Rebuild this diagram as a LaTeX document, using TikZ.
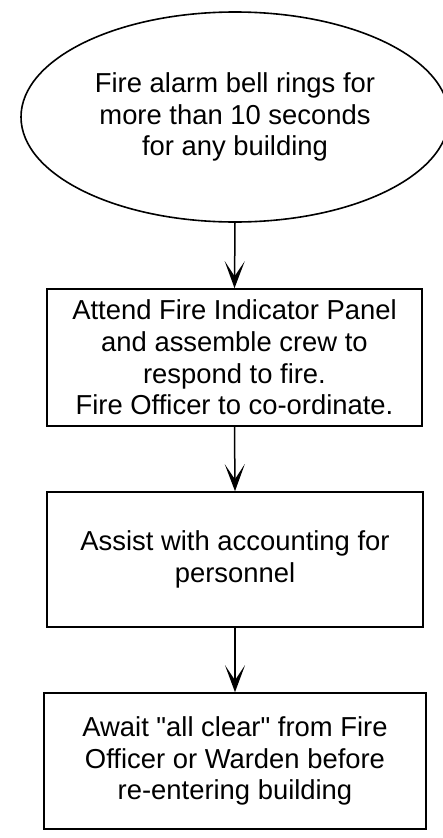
\documentclass[tikz,border=0pt]{standalone}
\usepackage{fontspec}
\setmainfont{Liberation Sans}[Ligatures=TeXOff]
\usetikzlibrary{arrows.meta,shapes.geometric}
\begin{document}
\begin{tikzpicture}[x=1pt,y=-1pt,
  flowtext/.style={font=\fontsize{27.4}{31.6}\selectfont, align=center, text=black},
  stepbox/.style={draw=black, line width=1.6pt, flowtext, inner sep=0pt},
  startoval/.style={draw=black, line width=1.6pt, ellipse, flowtext, inner sep=0pt},
  flowarrow/.style={draw=black, line width=1.5pt, -{Stealth[length=27pt,width=20pt,inset=15pt]}}
]
\useasboundingbox (0,0) rectangle (443,838);
\node[startoval, minimum width=428pt, minimum height=210pt] (start) at (235,117)
  {Fire alarm bell rings for\\more than 10 seconds\\for any building};
\node[stepbox, minimum width=375pt, minimum height=137pt] (attend) at (234.5,357.5)
  {Attend Fire Indicator Panel\\and assemble crew to\\respond to fire.\\Fire Officer to co-ordinate.};
\node[stepbox, minimum width=376pt, minimum height=135pt] (assist) at (235,559.5)
  {Assist with accounting for\\personnel};
\node[stepbox, minimum width=382pt, minimum height=136pt] (await) at (235,761)
  {Await "all clear" from Fire\\Officer or Warden before\\re-entering building};
\draw[flowarrow] (start.south) -- (attend.north);
\draw[flowarrow] (attend.south) -- (assist.north);
\draw[flowarrow] (assist.south) -- (await.north);
\end{tikzpicture}
\end{document}
